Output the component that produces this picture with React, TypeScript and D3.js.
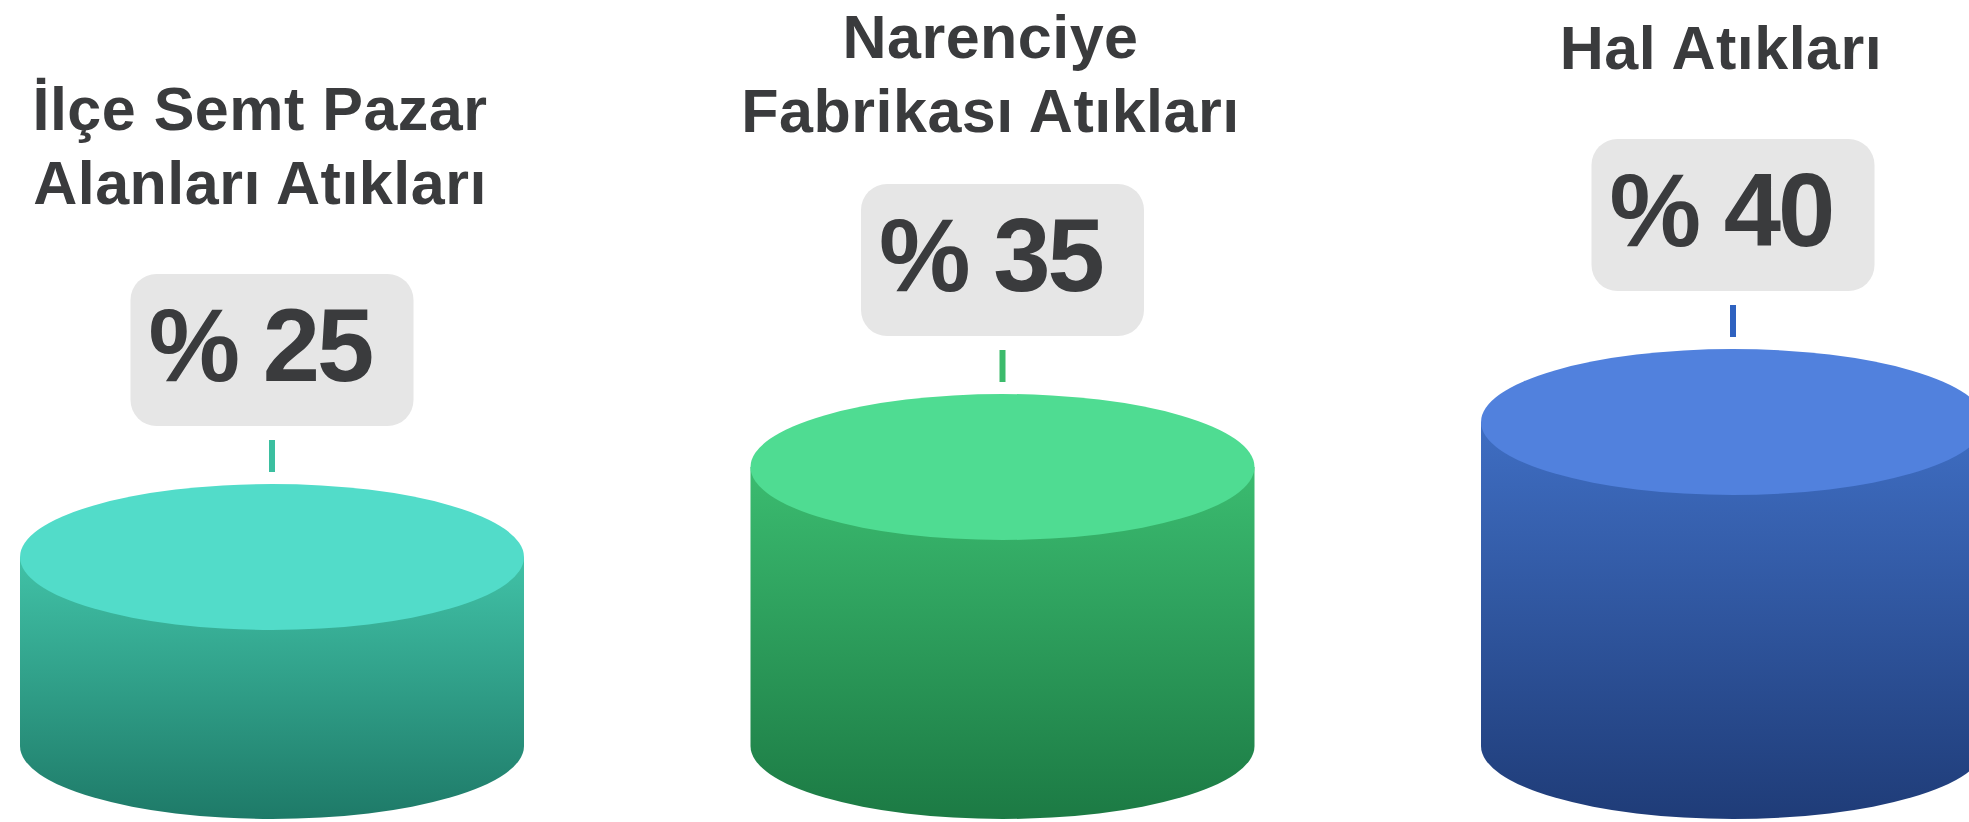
import React from "react";
import * as d3 from "d3";

const categories = ["İlçe Semt Pazar Alanları Atıkları", "Narenciye Fabrikası Atıkları", "Hal Atıkları"];
const titleLines = [["İlçe Semt Pazar", "Alanları Atıkları"], ["Narenciye", "Fabrikası Atıkları"], ["Hal Atıkları"]];
const values = [25, 35, 40];
const labels = ["% 25", "% 35", "% 40"];
const topColors = ["#52dcc9", "#4fdc92", "#5181dd"];
const bodyTopColors = ["#41c2a7", "#3bbc70", "#3f6ec3"];
const bodyBottomColors = ["#1e7a68", "#1c7a44", "#1f3c78"];
const tickColors = ["#3bbfa0", "#3cbb6c", "#2f62c0"];

const W = 1969;
const H = 822;
const RX = 252;
const RY = 73;
const BASE_Y = 746;
const LINE_H = 74;
const MIN_FIRST_BASELINE = 58;

export default function App() {
  const x = d3.scalePoint<string>().domain(categories).range([272, 1733]);
  const h = d3.scaleLinear().domain([4, 40]).range([0, 324]);
  const font = "'Liberation Sans', Arial, sans-serif";
  const textColor = "#3a3b3d";

  return (
    <svg
      width={W}
      height={H}
      style={{ position: "absolute", left: 0, top: 0, display: "block" }}
      fontFamily={font}
    >
      <defs>
        {categories.map((c, i) => (
          <linearGradient key={c} id={`body${i}`} x1="0" y1="0" x2="0" y2="1">
            <stop offset="0%" stopColor={bodyTopColors[i]} />
            <stop offset="100%" stopColor={bodyBottomColors[i]} />
          </linearGradient>
        ))}
      </defs>
      {categories.map((c, i) => {
        const cx = x(c)!;
        const topCy = BASE_Y - h(values[i]);
        const left = cx - RX;
        const right = cx + RX;
        const bodyD = `M${left},${topCy} L${left},${BASE_Y} A${RX},${RY} 0 0 0 ${right},${BASE_Y} L${right},${topCy} Z`;
        const ellTop = topCy - RY;
        const boxBottom = ellTop - 58;
        const boxH = 152;
        const boxW = 283;
        const boxTop = boxBottom - boxH;
        const lines = titleLines[i];
        const firstBaseline = Math.max(boxTop - 70 - (lines.length - 1) * LINE_H, MIN_FIRST_BASELINE);
        return (
          <g key={c}>
            <path d={bodyD} fill={`url(#body${i})`} />
            <ellipse cx={cx} cy={topCy} rx={RX} ry={RY} fill={topColors[i]} />
            <rect x={cx - 3} y={boxBottom + 14} width={6} height={58 - 26} fill={tickColors[i]} />
            <rect x={cx - boxW / 2} y={boxTop} width={boxW} height={boxH} rx={26} ry={26} fill="#e6e6e6" />
            <text
              x={cx - 12}
              y={boxTop + 107}
              textAnchor="middle"
              fontSize={103}
              fontWeight="bold"
              letterSpacing={-3}
              fill={textColor}
            >
              {labels[i]}
            </text>
            {lines.map((ln, j) => (
              <text
                key={ln}
                x={cx - 12}
                y={firstBaseline + j * LINE_H}
                textAnchor="middle"
                fontSize={61}
                fontWeight="bold"
                letterSpacing={0.5}
                fill={textColor}
              >
                {ln}
              </text>
            ))}
          </g>
        );
      })}
    </svg>
  );
}
